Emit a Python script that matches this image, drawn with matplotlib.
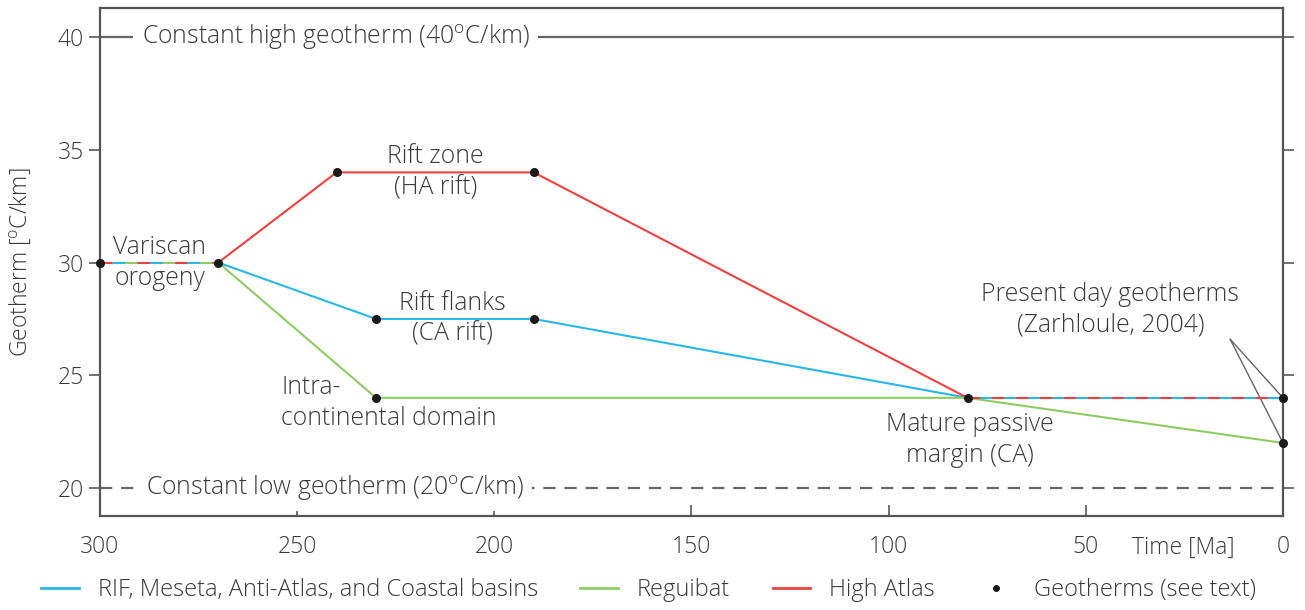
import matplotlib
matplotlib.use('Agg')
import matplotlib.pyplot as plt
from matplotlib.lines import Line2D

plt.rcParams['font.family'] = ['Open Sans', 'DejaVu Sans']
plt.rcParams['font.weight'] = 'light'
plt.rcParams['axes.labelweight'] = 'light'
plt.rcParams['mathtext.fontset'] = 'custom'
plt.rcParams['mathtext.rm'] = 'Open Sans:light'

# geotherm histories (time in Ma, geotherm in degC/km)
time_rif = [300, 270, 230, 190, 80, 0]
geo_rif = [30, 30, 27.5, 27.5, 24, 24]
time_reg = [300, 270, 230, 80, 0]
geo_reg = [30, 30, 24, 24, 22]
time_ha = [300, 270, 240, 190, 80, 0]
geo_ha = [30, 30, 34, 34, 24, 24]

# geotherm control points
pts_time = [300, 270, 240, 190, 230, 190, 230, 80, 0, 0]
pts_geo = [30, 30, 34, 34, 27.5, 27.5, 24, 24, 24, 22]

high_geo = 40
low_geo = 20

c_rif = '#2bb6ea'
c_reg = '#8dcc62'
c_ha = '#ef4040'
c_grey = '#666666'
c_text = '#3a3a3a'

fig = plt.figure(figsize=(13.05, 6.1), dpi=100)
ax = fig.add_axes([100 / 1305, 94 / 610, 1183 / 1305, 508 / 610])

# constant geotherms
ax.axhline(high_geo, color=c_grey, lw=1.6, zorder=1)
ax.axhline(low_geo, color=c_grey, lw=1.6, ls=(0, (5.5, 4)), zorder=1)
box = dict(facecolor='white', edgecolor='none', pad=6)
fs = 17.8
ax.text(240.3, high_geo, r'Constant high geotherm (40$^{\mathrm{o}}$C/km)', ha='center', va='center',
        fontsize=fs, color=c_text, bbox=box, zorder=2)
ax.text(240.5, low_geo, r'Constant low geotherm (20$^{\mathrm{o}}$C/km)', ha='center', va='center',
        fontsize=fs, color=c_text, bbox=box, zorder=2)

lw = 1.5
# individual parts
ax.plot(time_rif[1:5], geo_rif[1:5], color=c_rif, lw=lw, zorder=3)
ax.plot(time_reg[1:], geo_reg[1:], color=c_reg, lw=lw, zorder=3)
ax.plot(time_ha[1:5], geo_ha[1:5], color=c_ha, lw=lw, zorder=3)

# shared segment 300-270 Ma (three colours)
ax.plot(time_reg[:2], geo_reg[:2], color=c_reg, lw=lw, zorder=4)
ax.plot(time_ha[:2], geo_ha[:2], color=c_ha, lw=lw, ls=(0, (6, 12)), zorder=4)
ax.plot(time_rif[:2], geo_rif[:2], color=c_rif, lw=lw, ls=(-6, (6, 12)), zorder=4)

# shared segment 80-0 Ma (two colours)
ax.plot(time_rif[4:], geo_rif[4:], color=c_rif, lw=lw, zorder=4)
ax.plot(time_ha[4:], geo_ha[4:], color=c_ha, lw=lw, ls=(0, (6, 5.5)), zorder=4)

ax.plot(pts_time, pts_geo, 'o', color='#1a1a1a', ms=5.5, zorder=6, clip_on=False)

# labels
ls_ = 1.32
ax.text(284.8, 30, 'Variscan\norogeny', ha='center', va='center', fontsize=fs, color=c_text,
        linespacing=ls_)
ax.text(215, 34, 'Rift zone\n(HA rift)', ha='center', va='center', fontsize=fs, color=c_text,
        linespacing=ls_)
ax.text(210.7, 27.5, 'Rift flanks\n(CA rift)', ha='center', va='center', fontsize=fs, color=c_text,
        linespacing=ls_)
ax.text(254, 23.77, 'Intra-\ncontinental domain', ha='left', va='center', fontsize=fs, color=c_text,
        linespacing=ls_)
ax.text(79.4, 22.13, 'Mature passive\nmargin (CA)', ha='center', va='center', fontsize=fs, color=c_text,
        linespacing=ls_)
ax.text(43.8, 27.9, 'Present day geotherms\n(Zarhloule, 2004)', ha='center', va='center', fontsize=fs,
        color=c_text, linespacing=ls_)
for g in [24, 22]:
    ax.annotate('', xy=(0, g), xytext=(13.4, 26.6),
                arrowprops=dict(arrowstyle='-', color=c_grey, lw=1, shrinkA=0, shrinkB=0))

ax.set_xlim(300, 0)
ax.set_ylim(18.76, 41.29)
ax.set_xticks([300, 250, 200, 150, 100, 50, 0])
ax.set_yticks([20, 25, 30, 35, 40])
ax.tick_params(axis='x', direction='in', length=8, width=1.3, colors=c_grey, labelcolor=c_text,
               labelsize=16.5, pad=14)
ax.tick_params(axis='y', direction='out', length=8, width=1.3, colors=c_grey, labelcolor=c_text,
               labelsize=16.5, right=True)
for s in ax.spines.values():
    s.set_color('#555555')
    s.set_linewidth(1.6)

ax.set_ylabel(r'Geotherm [$^{\mathrm{o}}$C/km]', fontsize=16.5, fontweight='light', color=c_text,
              labelpad=18)
fig.text(1183 / 1305, 1 - 548 / 610, 'Time [Ma]', ha='center', va='center', fontsize=16.5, color=c_text)

handles = [Line2D([], [], color=c_rif, lw=2),
           Line2D([], [], color=c_reg, lw=2),
           Line2D([], [], color=c_ha, lw=2),
           Line2D([], [], color='#1a1a1a', marker='o', ms=4, ls='none')]
labels = ['RIF, Meseta, Anti-Atlas, and Coastal basins', 'Reguibat', 'High Atlas', 'Geotherms (see text)']
leg = fig.legend(handles, labels, loc='center', bbox_to_anchor=(0.497, 1 - 590 / 610), ncol=4,
                 frameon=False, fontsize=17, handlelength=1.6, columnspacing=1.8, handletextpad=0.8)
for t in leg.get_texts():
    t.set_color(c_text)

fig.savefig('out.png', dpi=100)
